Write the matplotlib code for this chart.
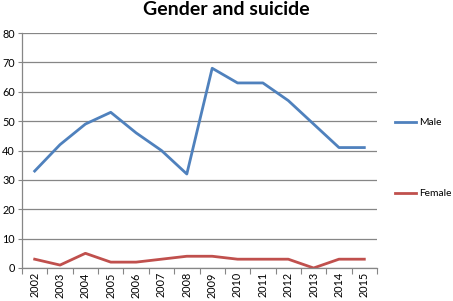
import matplotlib
matplotlib.use("Agg")
import matplotlib.pyplot as plt

years = ['2002', '2003', '2004', '2005', '2006', '2007', '2008',
         '2009', '2010', '2011', '2012', '2013', '2014', '2015']
male = [33, 42, 49, 53, 46, 40, 32, 68, 63, 63, 57, 49, 41, 41]
female = [3, 1, 5, 2, 2, 3, 4, 4, 3, 3, 3, 0, 3, 3]
y_ticks = [0, 10, 20, 30, 40, 50, 60, 70, 80]


def main():
    plt.rcParams['font.family'] = ['Lato', 'DejaVu Sans']
    fig = plt.figure(figsize=(4.53, 3.01), dpi=100)
    ax = fig.add_axes([22 / 453, 33 / 301, 355 / 453, 235 / 301])

    x = list(range(len(years)))
    ax.plot(x, male, color='#4F81BD', linewidth=2.0, label='Male')
    ax.plot(x, female, color='#C0504D', linewidth=2.0, label='Female')

    # category axis, ticks between the categories
    ax.set_xlim(-0.5, len(years) - 0.5)
    ax.set_ylim(0, 80)
    ax.set_xticks([i - 0.5 for i in range(len(years) + 1)])
    ax.set_xticklabels([])
    ax.set_xticks(x, minor=True)
    ax.set_xticklabels(years, minor=True, rotation=90, fontsize=7.8)
    ax.tick_params(axis='x', which='major', length=4, color='#868686')
    ax.tick_params(axis='x', which='minor', length=0, pad=3)
    ax.set_yticks(y_ticks)
    ax.set_yticklabels([str(v) for v in y_ticks], fontsize=7.8)
    ax.tick_params(axis='y', length=3, color='#868686', pad=2)

    ax.grid(axis='y', color='#868686', linewidth=0.9)
    ax.set_axisbelow(True)
    for side in ['top', 'right']:
        ax.spines[side].set_visible(False)
    for side in ['left', 'bottom']:
        ax.spines[side].set_color('#868686')
        ax.spines[side].set_linewidth(0.9)

    fig.suptitle('Gender and suicide', fontsize=14, fontweight='bold',
                 x=226 / 453, y=0.998, va='top')

    fig.legend(loc='upper left', bbox_to_anchor=(390 / 453, 1 - 113 / 301),
               frameon=False, fontsize=7.4, handlelength=2.0,
               handletextpad=0.3, labelspacing=6.0, borderpad=0)

    fig.savefig('out.png', dpi=100)


if __name__ == '__main__':
    main()
